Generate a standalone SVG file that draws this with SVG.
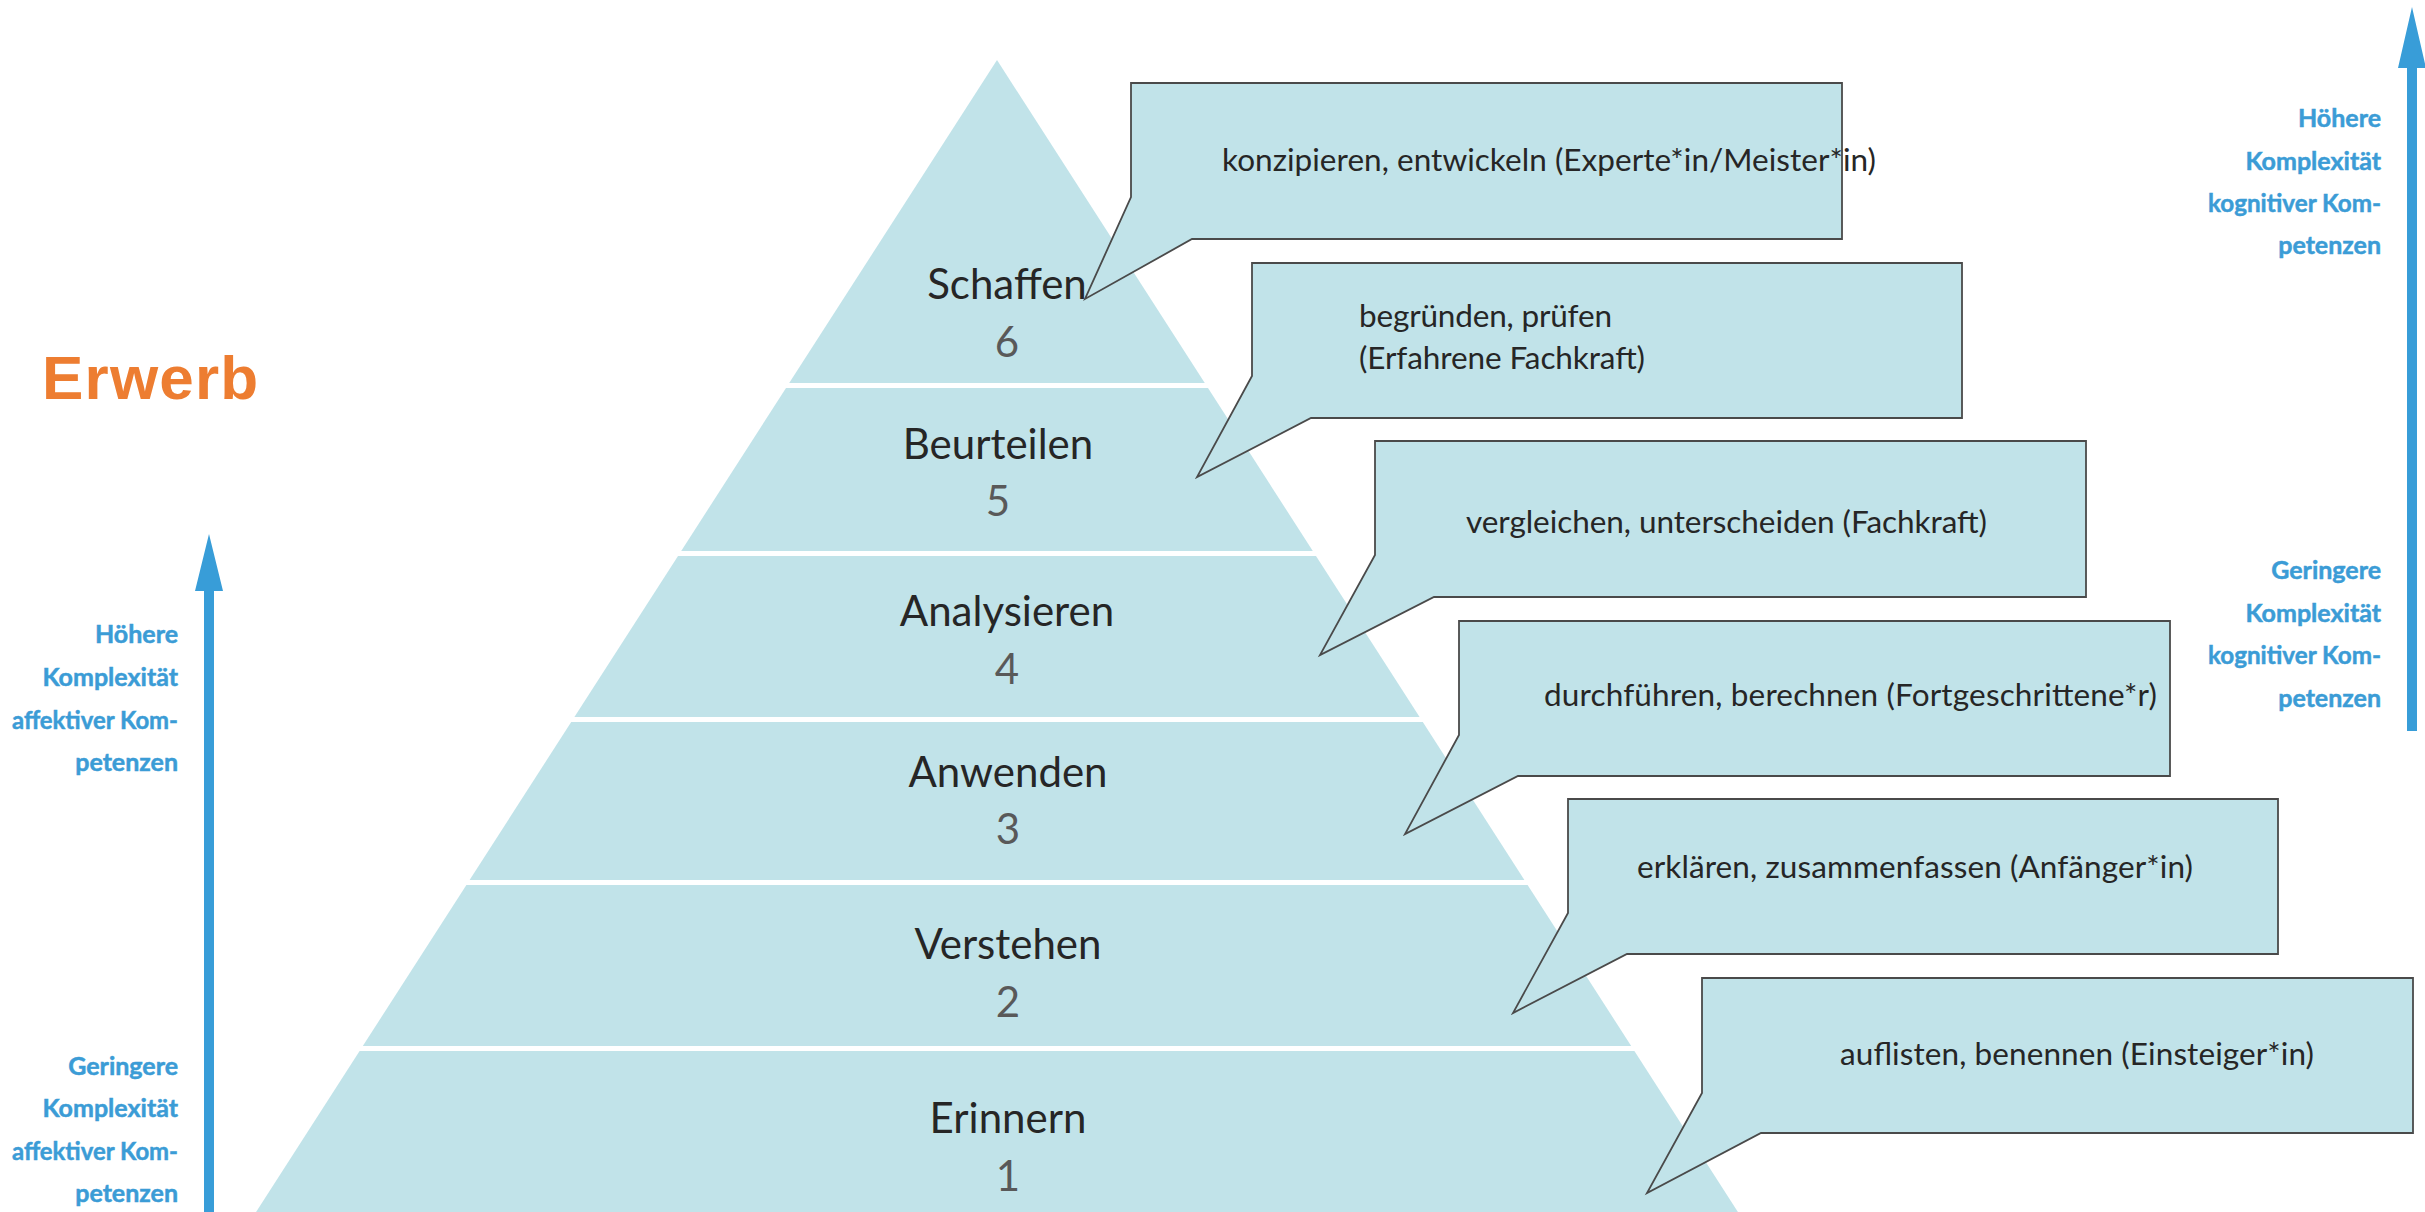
<svg xmlns="http://www.w3.org/2000/svg" width="2425" height="1212" viewBox="0 0 2425 1212">
<style>
.layer{fill:#C1E3E9;}
.lbl{font-family:Lato,"Open Sans",sans-serif;font-size:42px;fill:#262626;text-anchor:middle;}
.num{font-family:Lato,"Open Sans",sans-serif;font-size:42px;fill:#595959;text-anchor:middle;}
.call{fill:#C1E3E9;stroke:#4a4a4a;stroke-width:1.8;stroke-linejoin:miter;}
.ct{font-family:Lato,"Open Sans",sans-serif;font-size:31.5px;fill:#262626;}
.side{font-family:Lato,"Open Sans",sans-serif;font-size:25px;font-weight:bold;fill:#3B9CD6;stroke:#3B9CD6;stroke-width:0.5;text-anchor:end;}
.arrow{fill:#389DD8;}
</style>
<rect width="2425" height="1212" fill="#ffffff"/>

<g id="title">
<text x="42" y="399" font-family="Liberation Sans,Arial,sans-serif" font-size="62" font-weight="bold" letter-spacing="1.2" fill="#ED7D31">Erwerb</text>
</g>

<g id="layer6"><polygon class="layer" points="997,60 1204.8,383 789.2,383"/><text class="lbl" x="1007" y="299">Schaffen</text><text class="num" x="1007" y="357">6</text></g>
<g id="layer5"><polygon class="layer" points="786,388 1208,388 1312.8,551 681.2,551"/><text class="lbl" x="998" y="459">Beurteilen</text><text class="num" x="998" y="516">5</text></g>
<g id="layer4"><polygon class="layer" points="678,556 1316,556 1419.6,717 574.4,717"/><text class="lbl" x="1007" y="626">Analysieren</text><text class="num" x="1007" y="684">4</text></g>
<g id="layer3"><polygon class="layer" points="571.2,722 1422.8,722 1524.4,880 469.6,880"/><text class="lbl" x="1008" y="787">Anwenden</text><text class="num" x="1008" y="844">3</text></g>
<g id="layer2"><polygon class="layer" points="466.4,885 1527.6,885 1631.2,1046 362.8,1046"/><text class="lbl" x="1008" y="959">Verstehen</text><text class="num" x="1008" y="1017">2</text></g>
<g id="layer1"><polygon class="layer" points="359.6,1051 1634.4,1051 1749.5,1230 244.5,1230"/><text class="lbl" x="1008" y="1133">Erinnern</text><text class="num" x="1008" y="1191">1</text></g>

<g id="callout6"><path class="call" d="M1131,83 H1842 V239 H1192 L1085,299 L1131,197 Z"/><text class="ct" x="1222" y="171" textLength="654" lengthAdjust="spacing">konzipieren, entwickeln (Experte*in/Meister*in)</text></g>
<g id="callout5"><path class="call" d="M1252,263 H1962 V418 H1311 L1197,477 L1252,376 Z"/><text class="ct" x="1359" y="327" textLength="253" lengthAdjust="spacing">begründen, prüfen</text><text class="ct" x="1359" y="369" textLength="286" lengthAdjust="spacing">(Erfahrene Fachkraft)</text></g>
<g id="callout4"><path class="call" d="M1375,441 H2086 V597 H1434 L1320,655 L1375,555 Z"/><text class="ct" x="1466" y="533" textLength="521" lengthAdjust="spacing">vergleichen, unterscheiden (Fachkraft)</text></g>
<g id="callout3"><path class="call" d="M1459,621 H2170 V776 H1518 L1405,834 L1459,735 Z"/><text class="ct" x="1544" y="706" textLength="613" lengthAdjust="spacing">durchführen, berechnen (Fortgeschrittene*r)</text></g>
<g id="callout2"><path class="call" d="M1568,799 H2278 V954 H1627 L1513,1013 L1568,913 Z"/><text class="ct" x="1637" y="878" textLength="556" lengthAdjust="spacing">erklären, zusammenfassen (Anfänger*in)</text></g>
<g id="callout1"><path class="call" d="M1702,978 H2413 V1133 H1761 L1647,1193 L1702,1093 Z"/><text class="ct" x="1840" y="1065" textLength="474" lengthAdjust="spacing">auflisten, benennen (Einsteiger*in)</text></g>

<g id="label-affektiv-high"><text class="side" x="178" y="643">Höhere</text><text class="side" x="178" y="686">Komplexität</text><text class="side" x="178" y="729" textLength="166" lengthAdjust="spacingAndGlyphs">affektiver Kom-</text><text class="side" x="178" y="771">petenzen</text></g>
<g id="label-affektiv-low"><text class="side" x="178" y="1075">Geringere</text><text class="side" x="178" y="1117">Komplexität</text><text class="side" x="178" y="1160" textLength="166" lengthAdjust="spacingAndGlyphs">affektiver Kom-</text><text class="side" x="178" y="1202">petenzen</text></g>
<g id="label-kognitiv-high"><text class="side" x="2381" y="127">Höhere</text><text class="side" x="2381" y="170">Komplexität</text><text class="side" x="2381" y="212" textLength="173" lengthAdjust="spacingAndGlyphs">kognitiver Kom-</text><text class="side" x="2381" y="254">petenzen</text></g>
<g id="label-kognitiv-low"><text class="side" x="2381" y="579">Geringere</text><text class="side" x="2381" y="622">Komplexität</text><text class="side" x="2381" y="664" textLength="173" lengthAdjust="spacingAndGlyphs">kognitiver Kom-</text><text class="side" x="2381" y="707">petenzen</text></g>

<g id="connectors">
<path class="arrow" d="M204,590 H214 V1212 H204 Z M195,591 L209,534 L223,591 Z"/>
<path class="arrow" d="M2407,67 H2417 V731 H2407 Z M2398,68 L2412,7 L2426,68 Z"/>
</g>
</svg>
